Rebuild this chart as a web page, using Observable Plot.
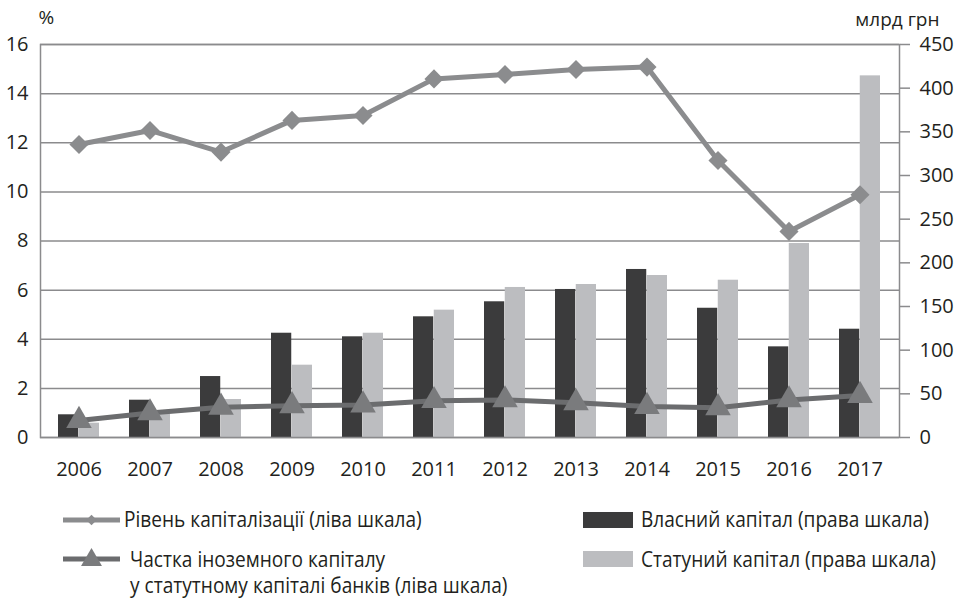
<!DOCTYPE html>
<html>
<head>
<meta charset="utf-8">
<script src="https://cdn.jsdelivr.net/npm/d3@7"></script>
<script src="https://cdn.jsdelivr.net/npm/@observablehq/plot@0.6"></script>
<style>
  body { margin: 0; background: #fff; }
  #chart svg { display: block; }
</style>
</head>
<body>
<div id="chart"></div>
<script>
const years = ["2006","2007","2008","2009","2010","2011","2012","2013","2014","2015","2016","2017"];
const capitalization = [11.93, 12.5, 11.62, 12.91, 13.11, 14.6, 14.78, 14.98, 15.08, 11.28, 8.39, 9.88];
const foreignShare = [0.69, 1.0, 1.23, 1.29, 1.32, 1.5, 1.53, 1.41, 1.26, 1.21, 1.53, 1.71];
const ownCapital = [26, 42.7, 69.8, 119.4, 115.3, 138.2, 155.4, 169.5, 192.4, 148, 103.8, 124];
const statCapital = [16.4, 27.1, 43.5, 82.8, 119.4, 145.8, 171.8, 175.2, 185.5, 180.1, 222.1, 414.1];
const leftTicks = [0, 2, 4, 6, 8, 10, 12, 14, 16];
const rightTicks = [0, 50, 100, 150, 200, 250, 300, 350, 400, 450];
const leftMax = 16, rightMax = 450;

const toLeft = v => v * leftMax / rightMax;
const rows = years.map((y, i) => ({
  year: y, cap: capitalization[i], share: foreignShare[i],
  own: toLeft(ownCapital[i]), stat: toLeft(statCapital[i])
}));

const W = 959, mL = 40, mR = 60, H = 494;
const step = (W - mL - mR) / years.length;
const bw = step * (1 - 0.42);
const font = "'Open Sans', sans-serif";
const ink = "#231f20";
const gridC = "#8b8b8d";

const plot = Plot.plot({
  width: W, height: H,
  marginLeft: mL, marginRight: mR, marginTop: 44, marginBottom: H - 437,
  style: { fontFamily: font, fontSize: "19px", color: ink, background: "#fff" },
  x: { type: "band", domain: years, paddingInner: 0.42, paddingOuter: 0.21, axis: null },
  y: { domain: [0, leftMax], axis: null },
  marks: [
    Plot.ruleY(leftTicks, { stroke: gridC, strokeWidth: 1.5 }),
    Plot.barY(rows, { x: "year", y: "own", fill: "#3b3b3c", insetRight: bw / 2 }),
    Plot.barY(rows, { x: "year", y: "stat", fill: "#bcbdc0", insetLeft: bw / 2 }),
    Plot.frame({ stroke: gridC, strokeWidth: 1.5 }),
    Plot.line(rows, { x: "year", y: "cap", stroke: "#8b8c8e", strokeWidth: 5 }),
    Plot.dot(rows, { x: "year", y: "cap", symbol: "diamond2", r: 8.6, fill: "#8b8c8e", stroke: "none" }),
    Plot.line(rows, { x: "year", y: "share", stroke: "#6b6c6e", strokeWidth: 5 }),
    Plot.dot(rows, { x: "year", y: "share", symbol: "triangle", r: 9.5, fill: "#7a7b7d", stroke: "none" }),
    Plot.axisY(leftTicks, { anchor: "left", tickSize: 0, tickPadding: 12, fontSize: 20, label: null, fill: ink }),
    Plot.axisY(rightTicks.map(toLeft), {
      anchor: "right", tickSize: 10, tickPadding: 10, stroke: gridC, strokeWidth: 1.5,
      tickFormat: d => String(Math.round(d * rightMax / leftMax)), fontSize: 20, label: null, fill: ink
    }),
    Plot.axisX({ tickSize: 0, tickPadding: 24, fontSize: 20, label: null, fill: ink }),
    Plot.text(["%"], { frameAnchor: "top-left", dx: -2, dy: -27, textAnchor: "start", lineAnchor: "middle", fontSize: 19, fill: ink }),
    Plot.text(["млрд грн"], { frameAnchor: "top-right", dx: 40, dy: -25, textAnchor: "end", lineAnchor: "middle", fontSize: 19, fill: ink })
  ]
});
document.getElementById("chart").appendChild(plot);

// Legend below the chart (y positions given in page pixels, shifted by chart height)
const off = H;
const legendItems = [
  { kind: "line", color: "#8b8c8e", marker: "diamond", x: 63, y: 520, texts: [{ t: "Рівень капіталізації (ліва шкала)", x: 124, y: 520, len: 302 }] },
  { kind: "line", color: "#6b6c6e", marker: "triangle", x: 63, y: 559, texts: [
      { t: "Частка іноземного капіталу", x: 130, y: 560 },
      { t: "у статутному капіталі банків (ліва шкала)", x: 130, y: 586 }] },
  { kind: "rect", color: "#3b3b3c", x: 583, y: 520, texts: [{ t: "Власний капітал (права шкала)", x: 641, y: 520, len: 286 }] },
  { kind: "rect", color: "#bcbdc0", x: 583, y: 559, texts: [{ t: "Статуний капітал (права шкала)", x: 641, y: 560, len: 293 }] }
];
const lsvg = d3.select("#chart").append("svg").attr("width", W).attr("height", 599 - off)
  .style("font-family", font);
for (const it of legendItems) {
  const yy = it.y - off;
  if (it.kind === "line") {
    lsvg.append("line").attr("x1", it.x).attr("x2", it.x + 57).attr("y1", yy).attr("y2", yy)
      .attr("stroke", it.color).attr("stroke-width", 5);
    const sym = it.marker === "diamond" ? d3.symbolDiamond2 : d3.symbolTriangle;
    const size = it.marker === "diamond" ? 70 : 190;
    lsvg.append("path").attr("d", d3.symbol(sym, size)())
      .attr("transform", `translate(${it.x + 28.5},${yy + (it.marker === "triangle" ? 1 : 0)})`)
      .attr("fill", it.marker === "triangle" ? "#7a7b7d" : it.color);
  } else {
    lsvg.append("rect").attr("x", it.x).attr("y", yy - 8).attr("width", 50).attr("height", 16).attr("fill", it.color);
  }
}
// texts: condensed uniformly with a horizontal scale derived from measured widths
const texts = [];
for (const it of legendItems) for (const tx of it.texts) {
  const g = lsvg.append("g");
  const el = g.append("text").attr("x", 0).attr("y", 0).attr("dy", "0.35em")
    .attr("font-size", 21).attr("fill", ink).text(tx.t);
  texts.push({ tx, g, el });
}
const ratios = texts.filter(d => d.tx.len).map(d => d.tx.len / d.el.node().getComputedTextLength());
const k = ratios.length ? d3.mean(ratios) : 0.85;
for (const d of texts) {
  d.g.attr("transform", `translate(${d.tx.x},${d.tx.y - off}) scale(${k},1)`);
}
</script>
</body>
</html>
